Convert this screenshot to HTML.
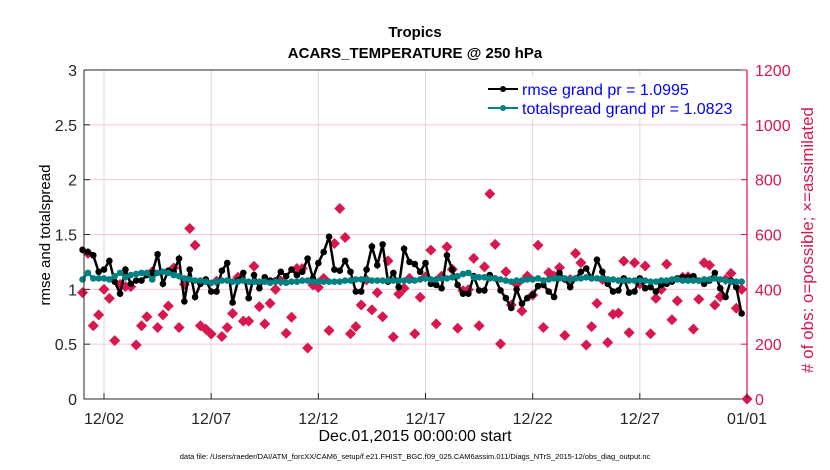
<!DOCTYPE html>
<html><head><meta charset="utf-8"><style>
body{margin:0;background:#fff;}
svg{display:block;font-family:"Liberation Sans",sans-serif;}
</style></head><body>
<svg id="chart" width="830" height="470">
<rect width="830" height="470" fill="#fff"/>
<g id="grid"></g>
<g id="series"></g>
<g id="axes"></g>
<text x="415" y="37" text-anchor="middle" font-size="15" font-weight="bold">Tropics</text>
<text x="415" y="58" text-anchor="middle" font-size="15" font-weight="bold">ACARS_TEMPERATURE @ 250 hPa</text>
<text transform="translate(50,235) rotate(-90)" text-anchor="middle" font-size="15">rmse and totalspread</text>
<text transform="translate(813,240) rotate(-90)" text-anchor="middle" font-size="17" fill="#d8174f"># of obs: o=possible; ×=assimilated</text>
<text x="415" y="441" text-anchor="middle" font-size="16">Dec.01,2015 00:00:00 start</text>
<text x="415" y="459" text-anchor="middle" font-size="7.5">data file: /Users/raeder/DAI/ATM_forcXX/CAM6_setup/f.e21.FHIST_BGC.f09_025.CAM6assim.011/Diags_NTrS_2015-12/obs_diag_output.nc</text>
<g>
<rect x="484" y="76" width="160" height="42" fill="#fff"/>
<line x1="488" y1="89" x2="518" y2="89" stroke="#000" stroke-width="2"/>
<circle cx="503" cy="89" r="3" fill="#000"/>
<text x="522" y="95" font-size="16" fill="#0000ff">rmse grand pr = 1.0995</text>
<line x1="488" y1="108" x2="518" y2="108" stroke="#008080" stroke-width="2"/>
<circle cx="503" cy="108" r="3" fill="#008080"/>
<text x="522" y="114" font-size="16" fill="#0000ff">totalspread grand pr = 1.0823</text>
</g>
</svg>
<script>
const rmse=[1.36,1.34,1.31,1.16,1.18,1.26,1.07,0.96,1.18,1.05,1.08,1.08,1.13,1.15,1.32,1.05,1.17,1.16,1.28,0.89,1.18,0.93,1.05,1.09,0.98,0.98,1.17,1.24,0.88,1.08,1.15,0.92,1.13,1.01,1.11,1.08,1.08,1.16,1.12,1.18,1.13,1.16,1.28,1.10,1.24,1.34,1.48,1.18,1.17,1.26,1.16,0.98,0.98,1.18,1.39,1.22,1.41,1.07,1.15,1.02,1.37,1.25,1.23,1.16,1.24,1.05,1.04,1.01,1.31,1.18,1.04,0.96,0.96,1.12,0.99,0.99,1.13,1.10,0.99,0.92,0.83,1.00,0.87,0.92,0.95,1.03,1.04,0.98,0.93,1.15,1.09,1.02,1.10,1.16,1.19,1.10,1.27,1.16,1.05,0.98,0.99,1.10,0.97,0.98,1.10,1.01,1.02,0.98,1.04,1.05,1.07,1.10,1.11,1.11,1.12,1.08,1.05,1.08,1.15,1.01,0.93,1.08,1.02,0.78,null];
const spread=[1.09,1.15,1.10,1.10,1.10,1.09,1.12,1.15,1.11,1.13,1.14,1.15,1.15,1.09,1.15,1.16,1.15,1.13,1.12,1.10,1.09,1.08,1.08,1.07,1.06,1.07,1.08,1.08,1.07,1.07,1.08,1.07,1.07,1.07,1.07,1.06,1.07,1.07,1.06,1.07,1.07,1.08,1.08,1.07,1.07,1.07,1.07,1.07,1.07,1.08,1.08,1.09,1.09,1.09,1.08,1.08,1.08,1.08,1.08,1.08,1.08,1.08,1.08,1.09,1.10,1.09,1.09,1.10,1.10,1.11,1.12,1.14,1.15,1.11,1.11,1.11,1.10,1.10,1.09,1.08,1.07,1.08,1.08,1.09,1.09,1.10,1.08,1.09,1.10,1.10,1.10,1.09,1.10,1.10,1.11,1.10,1.10,1.10,1.09,1.09,1.08,1.08,1.08,1.08,1.08,1.08,1.07,1.07,1.08,1.08,1.09,1.09,1.08,1.08,1.08,1.08,1.09,1.09,1.10,1.09,1.08,1.07,1.07,1.07,null];
const obs=[388,531,267,307,400,367,213,418,410,410,197,267,300,464,261,307,339,478,261,418,622,561,267,255,237,430,228,261,312,444,284,284,484,337,274,349,400,431,240,298,476,476,186,416,407,440,250,567,695,589,238,264,343,434,325,388,300,504,226,383,404,440,238,371,446,543,274,448,555,473,258,395,399,513,267,482,748,564,201,464,343,419,321,448,379,561,261,461,448,479,232,436,531,497,197,264,349,436,206,309,313,503,242,497,420,485,238,367,400,492,289,358,444,446,255,364,497,488,343,373,436,458,331,400,0];
const xTickLabels=["12/02","12/07","12/12","12/17","12/22","12/27","01/01"];
const xTickDays=[1,6,11,16,21,26,31];
const yTicks=[0,0.5,1,1.5,2,2.5,3];
const y2Ticks=[0,200,400,600,800,1000,1200];

const X0=84,X1=747,Y0=399,Y1=70;
const dayPx=(747-104)/30;
function xDay(d){return 104+(d-1)*dayPx;}
function xIdx(i){return xDay(i*0.25);}
function yL(v){return Y0-(v/3)*(Y0-Y1);}
function yR(v){return Y0-(v/1200)*(Y0-Y1);}
const NS="http://www.w3.org/2000/svg";
function mk(tag,attrs,parent){const e=document.createElementNS(NS,tag);for(const k in attrs)e.setAttribute(k,attrs[k]);parent.appendChild(e);return e;}
const grid=document.getElementById('grid'),series=document.getElementById('series'),axes=document.getElementById('axes');
const RED="#d8174f";
xTickDays.forEach((d,i)=>{const l=mk('line',{x1:xDay(d),x2:xDay(d),y1:Y1,y2:Y0,stroke:'#d9d9d9','stroke-width':1},grid);

});
yTicks.forEach(v=>{if(v>0&&v<3){const l=mk('line',{x1:X0,x2:X1,y1:yL(v),y2:yL(v),stroke:'#f5c6d6','stroke-width':1},grid);

}});
obs.forEach((v,i)=>{const x=xIdx(i),y=yR(v);const p=mk('polygon',{points:`${x},${y-5.5} ${x+5.5},${y} ${x},${y+5.5} ${x-5.5},${y}`,fill:RED},series);

});
function drawLine(arr,color,name){let d='';arr.forEach((v,i)=>{if(v==null)return;d+=(d?'L':'M')+xIdx(i).toFixed(1)+','+yL(v).toFixed(1);});
const pth=mk('path',{d:d,fill:'none',stroke:color,'stroke-width':2.5},series);


arr.forEach((v,i)=>{if(v==null)return;const c=mk('circle',{cx:xIdx(i),cy:yL(v),r:3.3,fill:color},series);

});}
drawLine(rmse,'#000','rmse');
drawLine(spread,'#008080','totalspread');
const ax=mk('path',{d:`M${X0},${Y1}L${X0},${Y0}L${X1},${Y0}M${X0},${Y1}L${X1},${Y1}`,stroke:'#262626',fill:'none','stroke-width':1},axes);


const ax2=mk('line',{x1:X1,x2:X1,y1:Y1,y2:Y0,stroke:RED,'stroke-width':1.2},axes);


xTickDays.forEach((d,i)=>{const x=xDay(d);mk('line',{x1:x,x2:x,y1:Y0,y2:Y0-6,stroke:'#262626'},axes);
const t=mk('text',{x:x,y:424,'text-anchor':'middle','font-size':16,fill:'#262626'},axes);t.textContent=xTickLabels[i];

});
yTicks.forEach(v=>{const y=yL(v);mk('line',{x1:X0,x2:X0+6,y1:y,y2:y,stroke:'#262626'},axes);
const t=mk('text',{x:77,y:y+6,'text-anchor':'end','font-size':16,fill:'#262626'},axes);t.textContent=String(v);

});
y2Ticks.forEach(v=>{const y=yR(v);mk('line',{x1:X1,x2:X1-6,y1:y,y2:y,stroke:RED},axes);
const t=mk('text',{x:755,y:y+6,'text-anchor':'start','font-size':16,fill:RED},axes);t.textContent=String(v);

});
</script>
</body></html>
